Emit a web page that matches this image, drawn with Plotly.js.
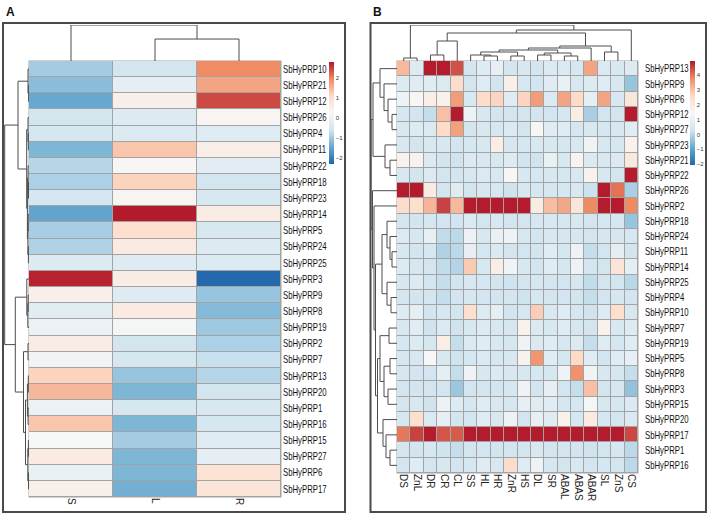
<!DOCTYPE html>
<html>
<head>
<meta charset="utf-8">
<script src="https://cdn.plot.ly/plotly-3.0.1.min.js"></script>
<style>html,body{margin:0;padding:0;background:#fff;}#chart{width:708px;height:516px;}</style>
</head>
<body>
<div id="chart"></div>
<script>
// ---------- Panel A data ----------
const colsA = ['S', 'L', 'R'];
const rowsA = ['SbHyPRP10','SbHyPRP21','SbHyPRP12','SbHyPRP26','SbHyPRP4','SbHyPRP11','SbHyPRP22','SbHyPRP18','SbHyPRP23','SbHyPRP14','SbHyPRP5','SbHyPRP24','SbHyPRP25','SbHyPRP3','SbHyPRP9','SbHyPRP8','SbHyPRP19','SbHyPRP2','SbHyPRP7','SbHyPRP13','SbHyPRP20','SbHyPRP1','SbHyPRP16','SbHyPRP15','SbHyPRP27','SbHyPRP6','SbHyPRP17'];
const valsS = [-0.95,-1.15,-1.45,-0.55,-0.5,-1.25,-0.8,-0.88,-0.5,-1.5,-0.92,-0.85,-0.35,2.75,0.5,-0.2,0.0,0.6,0.1,1.2,1.5,0.0,1.35,0.25,0.65,-0.02,0.5];
const valsL = [-0.55,-0.15,0.5,-0.35,-0.35,1.35,0.3,1.2,0.35,2.8,1.0,0.65,-0.3,0.6,-0.3,0.65,0.2,-0.55,-0.5,-1.05,-1.25,-0.5,-1.25,-0.95,-1.25,-1.25,-1.35];
const valsR = [1.95,1.7,2.45,0.35,-0.25,0.55,-0.2,-0.55,-0.45,0.6,-0.45,-0.35,-0.35,-2.25,-1.05,-1.2,-1.0,-0.88,-0.65,-0.8,-0.55,-0.45,-0.5,-0.25,-0.15,0.85,0.8];
const ticksA = [-2,-1,0,1,2];
// dendrograms: [left, right, height]; leaves are display indices
const treeAcols = [0, [1, 2, 0.61], 1.0];
const treeArows = [
  [[0,[1,2,0.4],1.0], [[3,[4,5,0.7],1.0],[[6,[7,8,0.5],0.9],[[9,10,0.8],[11,12,0.6],1.1],1.6],2.3], 11],
  [[13,[[14,15,0.8],16,1.2],2.2], [[17,18,1.0],[[[19,20,0.7],[21,22,0.9],1.6],[[23,24,0.6],[25,26,0.5],1.2],3.5],5.5], 13.7],
  24.3];

// ---------- Panel B data ----------
const colsB = ['DS','ZnL','DR','CR','CL','SS','HL','HR','ZnR','HS','DL','SR','ABAL','ABAS','ABAR','SL','ZnS','CS'];
const rowsB = ['SbHyPRP13','SbHyPRP9','SbHyPRP6','SbHyPRP12','SbHyPRP27','SbHyPRP23','SbHyPRP21','SbHyPRP22','SbHyPRP26','SbHyPRP2','SbHyPRP18','SbHyPRP24','SbHyPRP11','SbHyPRP14','SbHyPRP25','SbHyPRP4','SbHyPRP10','SbHyPRP7','SbHyPRP19','SbHyPRP5','SbHyPRP8','SbHyPRP3','SbHyPRP15','SbHyPRP20','SbHyPRP17','SbHyPRP1','SbHyPRP16'];
const valuesB = [
  [3.1,0.6,4.9,4.9,4.35,0.3,0.65,0.95,0.35,0.45,0.35,0.55,0.55,0.4,3.4,0.55,0.45,0.6],
  [0.6,0.7,0.75,0.55,2.5,0.35,0.7,0.3,1.8,0.45,0.3,0.7,1.05,0.45,0.6,0.7,0.5,-0.35],
  [1.1,1.5,1.8,1.7,3.5,0.5,2.5,2.7,0.7,2.7,3.5,0.55,3.4,2.6,0.85,3.4,0.45,2.1],
  [0.4,0.3,0.15,3.0,4.9,1.1,0.45,0.35,0.3,0.35,0.3,0.3,0.4,1.85,-0.15,0.3,0.35,4.9],
  [0.45,0.6,0.55,2.55,3.45,0.35,0.45,0.4,0.55,0.35,1.5,0.75,0.7,0.4,0.45,0.4,0.45,0.7],
  [0.45,0.35,0.5,0.5,0.3,0.4,0.5,1.85,0.4,0.4,0.45,0.45,0.4,0.45,1.2,0.5,0.4,1.7],
  [1.65,1.65,0.55,0.35,0.25,0.55,0.45,0.5,0.6,0.3,0.25,1.0,0.45,1.6,0.55,0.45,0.55,2.05],
  [0.45,0.35,0.55,0.35,0.3,0.5,0.55,0.45,1.5,0.45,0.4,0.45,0.4,0.45,1.7,0.45,0.35,4.9],
  [4.9,4.9,1.95,0.35,0.75,0.35,0.45,0.45,0.25,0.45,0.4,0.4,0.4,0.45,0.2,4.9,4.0,-0.15],
  [2.5,2.45,3.15,4.5,3.1,4.9,4.9,4.9,4.9,4.9,1.95,3.05,3.35,2.2,3.75,4.9,4.9,3.75],
  [0.35,0.3,0.4,0.3,0.3,0.55,0.35,0.45,0.35,0.35,0.4,0.45,0.4,0.45,0.3,0.4,0.4,-0.35],
  [0.55,0.4,1.0,0.1,0.05,1.1,0.45,1.0,1.1,0.45,0.3,0.45,0.4,0.4,0.3,0.4,0.4,0.4],
  [0.45,0.3,0.4,-0.1,0.05,0.95,0.4,0.55,0.35,0.3,0.35,0.7,0.4,1.1,0.15,0.35,0.85,0.35],
  [0.6,0.4,0.35,0.1,-0.05,2.85,0.45,1.85,1.2,0.45,0.3,0.7,0.4,1.1,0.3,0.35,2.2,0.85],
  [0.4,0.6,0.35,0.15,0.3,0.45,0.4,0.35,0.25,0.3,0.4,0.35,0.3,0.4,0.1,0.35,0.35,0.0],
  [0.3,0.35,0.3,0.15,0.3,0.4,0.3,0.35,0.3,0.25,0.4,0.35,0.3,0.35,0.15,0.3,0.4,0.3],
  [0.6,0.85,0.35,0.4,0.35,2.45,0.6,0.85,0.35,0.4,2.8,0.45,0.7,0.4,0.25,0.6,2.45,0.45],
  [0.45,0.75,0.25,0.55,0.25,0.45,0.6,0.45,0.4,1.7,0.55,0.45,0.7,0.4,0.3,1.7,0.45,0.6],
  [0.4,0.6,0.4,1.85,0.15,0.55,0.7,0.45,0.4,1.2,0.55,0.7,0.45,0.6,0.15,0.7,0.4,0.7],
  [0.4,0.45,1.45,0.45,0.25,0.4,0.55,0.4,0.45,1.65,3.6,0.7,0.4,2.6,0.7,0.3,0.7,0.95],
  [0.4,0.3,0.3,0.85,0.15,1.2,0.45,0.55,0.45,0.45,0.4,0.4,1.2,3.65,1.2,0.45,0.4,0.15],
  [0.35,0.3,0.35,0.3,-0.3,0.3,0.35,0.3,0.4,1.2,0.35,0.95,0.35,0.15,3.0,0.35,0.4,-0.4],
  [0.35,0.45,0.25,1.1,0.6,0.4,0.7,0.45,0.4,0.95,0.7,0.7,0.4,0.4,1.35,0.45,0.4,0.55],
  [0.4,2.45,0.55,0.95,0.35,0.3,0.7,0.45,1.1,0.35,0.95,0.7,1.7,0.4,1.95,0.4,0.3,0.55],
  [3.95,4.5,4.9,4.3,4.25,4.9,4.9,4.9,4.9,4.9,4.9,4.9,4.9,4.9,4.9,4.9,4.9,4.45],
  [0.3,0.35,0.4,0.25,0.15,0.35,0.3,0.35,0.3,0.35,0.45,0.3,0.35,0.3,0.25,0.35,0.4,0.05],
  [0.35,0.7,0.3,0.45,0.3,0.4,0.7,0.45,2.5,0.7,1.1,0.4,0.35,0.45,0.3,0.4,0.35,0.05]
];
const ticksB = [-2,-1,0,1,2,3,4];
const treeBcols = [[0,1,3],
  [[[[2,3,6],4,20],
    [[[[[5,[6,7,5],6],[8,9,5],9],[[10,11,6],[12,13,5],8],11],14,13],[15,16,9],15],28],
   17,31],
  36];
const treeBrows = [
  [[0,[1,[2,[3,4,5],9],13],17], [5,[6,7,7],12], 24],
  [8,[9,[[[10,[11,[12,13,5],7],10],[14,[15,16,6],10],15],
         [[[17,18,8],[[19,20,7],[21,22,9],13],17],[23,[24,[25,26,7],11],14],19.5],21.5],23],24.5],
  26];

// ---------- helpers ----------
const W = 708, H = 516;
const px = x => x / W;
const py = y => 1 - y / H;
const rdbu = ['#2166AC','#67A9CF','#D1E5F0','#F7F7F7','#FDDBC7','#EF8A62','#B2182B'];
const scale = rdbu.map((c, i) => [i / (rdbu.length - 1), c]);
function dendro(tree) {
  const pos = [], hgt = [];
  function rec(n) {
    if (typeof n === 'number') return [n, 0];
    const a = rec(n[0]), b = rec(n[1]), h = n[2];
    pos.push(a[0], a[0], b[0], b[0], null);
    hgt.push(a[1], h, h, b[1], null);
    return [(a[0] + b[0]) / 2, h];
  }
  rec(tree);
  return {pos, hgt};
}
const idx = n => Array.from({length: n}, (_, i) => i);
const lineStyle = {color: '#4d4d4d', width: 1};
const labFont = {family: 'Liberation Sans, Arial, sans-serif', size: 10.5, color: '#111'};
const colFont = {family: 'Liberation Sans, Arial, sans-serif', size: 10, color: '#222'};

const zA = rowsA.map((_, i) => [valsS[i], valsL[i], valsR[i]]);
const dAc = dendro(treeAcols), dAr = dendro(treeArows);
const dBc = dendro(treeBcols), dBr = dendro(treeBrows);

const cbCommon = {xanchor: 'left', xpad: 0, ypad: 0, yanchor: 'middle', lenmode: 'fraction',
  thickness: 5, thicknessmode: 'pixels', outlinewidth: 0, ticks: '', ticklen: 0,
  tickfont: {family: 'Liberation Sans, Arial, sans-serif', size: 6, color: '#333'}};

const traces = [
  {type: 'heatmap', x: idx(3), y: idx(rowsA.length), z: zA, xaxis: 'x', yaxis: 'y',
   colorscale: scale, zmin: -2.29, zmax: 2.82, xgap: 1, ygap: 1, hoverinfo: 'skip',
   colorbar: Object.assign({}, cbCommon, {x: px(329), y: py(113), len: 102 / H, tickvals: ticksA})},
  {type: 'scatter', mode: 'lines', x: dAc.pos, y: dAc.hgt, xaxis: 'x2', yaxis: 'y2', line: lineStyle, hoverinfo: 'skip', showlegend: false},
  {type: 'scatter', mode: 'lines', x: dAr.hgt, y: dAr.pos, xaxis: 'x3', yaxis: 'y3', line: lineStyle, hoverinfo: 'skip', showlegend: false},
  {type: 'heatmap', x: idx(colsB.length), y: idx(rowsB.length), z: valuesB, xaxis: 'x4', yaxis: 'y4',
   colorscale: scale, zmin: -2.05, zmax: 4.93, xgap: 1, ygap: 1, hoverinfo: 'skip',
   colorbar: Object.assign({}, cbCommon, {x: px(690), y: py(113), len: 104 / H, tickvals: ticksB})},
  {type: 'scatter', mode: 'lines', x: dBc.pos, y: dBc.hgt, xaxis: 'x5', yaxis: 'y5', line: lineStyle, hoverinfo: 'skip', showlegend: false},
  {type: 'scatter', mode: 'lines', x: dBr.hgt, y: dBr.pos, xaxis: 'x6', yaxis: 'y6', line: lineStyle, hoverinfo: 'skip', showlegend: false}
];

const hidden = {visible: false, fixedrange: true};
const heatX = (dom, n, labels, anchor) => ({domain: dom, range: [-0.5, n - 0.5], anchor, tickmode: 'array',
  tickvals: idx(n), ticktext: labels, tickangle: 90, ticks: '', showgrid: false, zeroline: false, showline: false,
  tickfont: colFont, fixedrange: true});
const heatY = (dom, n, labels, anchor, standoff) => ({domain: dom, range: [n - 0.5, -0.5], anchor, side: 'right', tickmode: 'array',
  tickvals: idx(n), ticktext: labels, ticks: '', showgrid: false, zeroline: false, showline: false,
  tickfont: labFont, fixedrange: true, ticklabelstandoff: standoff});

const layout = {
  width: W, height: H, margin: {l: 0, r: 0, t: 0, b: 0}, showlegend: false,
  paper_bgcolor: '#ffffff', plot_bgcolor: 'rgba(0,0,0,0)',
  xaxis: heatX([px(29), px(281)], 3, colsA, 'y'),
  yaxis: heatY([py(497), py(61)], rowsA.length, rowsA, 'x', 1),
  xaxis2: Object.assign({domain: [px(29), px(281)], range: [-0.5, 2.5], anchor: 'y2'}, hidden),
  yaxis2: Object.assign({domain: [py(61), py(25)], range: [0, 1], anchor: 'x2'}, hidden),
  xaxis3: Object.assign({domain: [px(4), px(29)], range: [25, 0], anchor: 'y3'}, hidden),
  yaxis3: Object.assign({domain: [py(497), py(61)], range: [rowsA.length - 0.5, -0.5], anchor: 'x3'}, hidden),
  xaxis4: heatX([px(397), px(638)], colsB.length, colsB, 'y4'),
  yaxis4: heatY([py(473), py(61)], rowsB.length, rowsB, 'x4', 6),
  xaxis5: Object.assign({domain: [px(397), px(638)], range: [-0.5, colsB.length - 0.5], anchor: 'y5'}, hidden),
  yaxis5: Object.assign({domain: [py(61), py(25)], range: [0, 36], anchor: 'x5'}, hidden),
  xaxis6: Object.assign({domain: [px(369), px(397)], range: [28, 0], anchor: 'y6'}, hidden),
  yaxis6: Object.assign({domain: [py(473), py(61)], range: [rowsB.length - 0.5, -0.5], anchor: 'x6'}, hidden),
  shapes: [
    {type: 'rect', xref: 'paper', yref: 'paper', x0: px(28.5), x1: px(281.5), y0: py(497.5), y1: py(60.5),
     fillcolor: '#A3A3A3', line: {width: 0}, layer: 'below'},
    {type: 'rect', xref: 'paper', yref: 'paper', x0: px(396.5), x1: px(638.5), y0: py(473.5), y1: py(60.5),
     fillcolor: '#A3A3A3', line: {width: 0}, layer: 'below'},
    {type: 'rect', xref: 'paper', yref: 'paper', x0: px(3), x1: px(345), y0: py(512), y1: py(23),
     line: {color: '#4a4a4a', width: 2}},
    {type: 'rect', xref: 'paper', yref: 'paper', x0: px(370.5), x1: px(706), y0: py(512), y1: py(23),
     line: {color: '#4a4a4a', width: 2}}
  ],
  annotations: [
    {text: '<b>A</b>', xref: 'paper', yref: 'paper', x: px(4), y: py(12), xanchor: 'left', yanchor: 'middle',
     showarrow: false, font: {family: 'Liberation Sans, Arial, sans-serif', size: 12, color: '#111'}},
    {text: '<b>B</b>', xref: 'paper', yref: 'paper', x: px(371), y: py(12), xanchor: 'left', yanchor: 'middle',
     showarrow: false, font: {family: 'Liberation Sans, Arial, sans-serif', size: 12, color: '#111'}}
  ]
};

// the reference uses a condensed face for row labels: scale the real text horizontally about its left anchor
function condenseLabels() {
  const k = 0.74;
  document.querySelectorAll('g.ytick text, g.y4tick text').forEach(t => {
    const x = parseFloat(t.getAttribute('x')) || 0;
    const prev = t.getAttribute('transform') || '';
    t.setAttribute('transform', prev + ' translate(' + x + ',0) scale(' + k + ',1) translate(' + (-x) + ',0)');
  });
}

Plotly.newPlot('chart', traces, layout, {staticPlot: true, displayModeBar: false}).then(condenseLabels);
</script>
</body>
</html>
